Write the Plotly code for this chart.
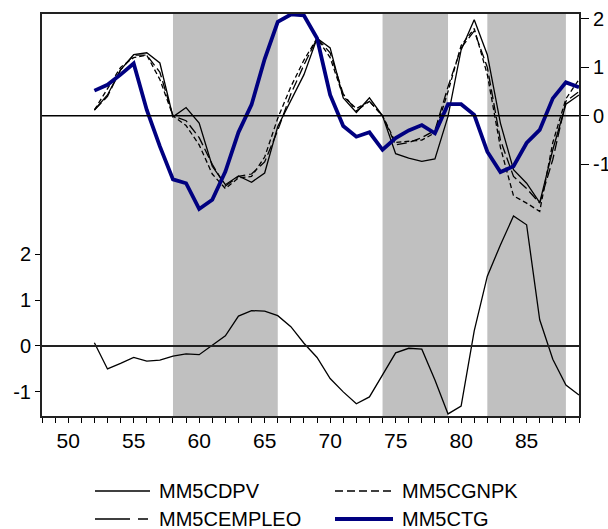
import plotly.graph_objects as go

years = list(range(52, 90))

mm5cdpv = [0.12, 0.43, 0.95, 1.26, 1.30, 1.09, -0.02, 0.17, -0.15, -1.04, -1.42, -1.24, -1.37, -1.18,
           -0.22, 0.33, 0.85, 1.60, 1.40, 0.37, 0.07, 0.37, 0.00, -0.78, -0.87, -0.94, -0.89, -0.01,
           1.36, 1.98, 1.26, -0.15, -1.11, -1.39, -1.79, -0.70, 0.24, 0.43]
mm5cgnpk = [0.12, 0.55, 1.00, 1.20, 1.25, 0.75, 0.00, -0.20, -0.60, -1.20, -1.50, -1.28, -1.25, -0.85,
            -0.05, 0.60, 1.15, 1.60, 1.20, 0.40, 0.15, 0.30, 0.00, -0.55, -0.52, -0.50, -0.35, 0.50,
            1.45, 1.80, 0.85, -0.65, -1.65, -1.80, -1.97, -0.55, 0.35, 0.75]
mm5cempleo = [0.12, 0.40, 0.95, 1.25, 1.25, 0.90, 0.00, -0.10, -0.45, -1.00, -1.45, -1.25, -1.20, -0.95,
              -0.30, 0.45, 1.05, 1.60, 1.30, 0.45, 0.10, 0.30, 0.00, -0.60, -0.55, -0.45, -0.30, 0.60,
              1.40, 1.75, 1.00, -0.50, -1.25, -1.50, -1.80, -0.90, 0.30, 0.50]
mm5ctg = [0.52, 0.64, 0.85, 1.08, 0.12, -0.63, -1.31, -1.39, -1.92, -1.73, -1.15, -0.34, 0.23, 1.17,
          1.94, 2.09, 2.07, 1.60, 0.43, -0.21, -0.43, -0.34, -0.70, -0.46, -0.30, -0.19, -0.36, 0.24,
          0.24, 0.02, -0.74, -1.16, -1.04, -0.56, -0.29, 0.36, 0.69, 0.59]
bottom_series = [0.07, -0.50, -0.38, -0.25, -0.33, -0.31, -0.22, -0.17, -0.19, 0.01, 0.22, 0.65, 0.77,
                 0.76, 0.66, 0.42, 0.06, -0.25, -0.71, -1.00, -1.26, -1.11, -0.63, -0.15, -0.05, -0.07,
                 -0.74, -1.48, -1.31, 0.33, 1.52, 2.20, 2.83, 2.64, 0.57, -0.29, -0.85, -1.07]

recessions = [(58, 66), (74, 79), (82, 88)]
x_ticks = [50, 55, 60, 65, 70, 75, 80, 85]
y_ticks = [-1, 0, 1, 2]
y_tick_labels = ["-1", "0", "1", "2"]

legend_names = ["MM5CDPV", "MM5CGNPK", "MM5CEMPLEO", "MM5CTG"]

BLUE = "#000080"
fig = go.Figure()

fig.add_trace(go.Scatter(x=years, y=bottom_series, mode="lines", yaxis="y",
                         line=dict(color="black", width=1.3), showlegend=False, name="bottom"))
fig.add_trace(go.Scatter(x=years, y=mm5cdpv, mode="lines", yaxis="y2", name=legend_names[0],
                         line=dict(color="black", width=1.3), showlegend=False))
fig.add_trace(go.Scatter(x=years, y=mm5cgnpk, mode="lines", yaxis="y2", name=legend_names[1],
                         line=dict(color="black", width=1.3, dash="5px,3px"), showlegend=False))
fig.add_trace(go.Scatter(x=years, y=mm5cempleo, mode="lines", yaxis="y2", name=legend_names[2],
                         line=dict(color="black", width=1.3, dash="10px,4px"), showlegend=False))
fig.add_trace(go.Scatter(x=years, y=mm5ctg, mode="lines", yaxis="y2", name=legend_names[3],
                         line=dict(color=BLUE, width=3.8), showlegend=False))

shapes = []
for a, b in recessions:
    shapes.append(dict(type="rect", xref="x", yref="paper", x0=a, x1=b, y0=0, y1=1,
                       fillcolor="#C0C0C0", line=dict(width=0), layer="below"))
shapes.append(dict(type="line", xref="paper", yref="y2", x0=0, x1=1, y0=0, y1=0,
                   line=dict(color="black", width=1.5)))
shapes.append(dict(type="line", xref="paper", yref="y", x0=0, x1=1, y0=0, y1=0,
                   line=dict(color="#222", width=2)))

# manual legend (page-pixel positions mapped to paper coords)
W, H, L, T = 537, 402, 42, 14
def px(xp):
    return (xp - L) / W
def py(yp):
    return (T + H - yp) / H

leg = [
    (legend_names[0], 95, 150, 491, "black", 1.3, "solid"),
    (legend_names[1], 335, 393, 491, "black", 1.3, "8px,4px"),
    (legend_names[2], 95, 150, 519, "black", 1.3, "35px,8px,10px,200px"),
    (legend_names[3], 335, 393, 519, BLUE, 3.8, "solid"),
]
annotations = []
for name, x0, x1, yy, col, w, d in leg:
    shapes.append(dict(type="line", xref="paper", yref="paper", x0=px(x0), x1=px(x1),
                       y0=py(yy), y1=py(yy), line=dict(color=col, width=w, dash=d)))
    annotations.append(dict(xref="paper", yref="paper", x=px(x1 + 7), y=py(yy), text=name,
                            showarrow=False, xanchor="left", yanchor="middle",
                            font=dict(size=20, color="black", family="Liberation Sans, Arial")))

fig.update_layout(
    width=608, height=529,
    margin=dict(l=42, r=29, t=14, b=113),
    paper_bgcolor="white", plot_bgcolor="white",
    font=dict(family="Liberation Sans, Arial", color="black"),
    showlegend=False,
    shapes=shapes, annotations=annotations,
    xaxis=dict(range=[48, 89], tickvals=x_ticks, ticks="outside", ticklen=5, tickwidth=1.2,
               tickcolor="black", showgrid=False, zeroline=False, showline=True, linecolor="#222",
               linewidth=2, mirror=True, tickfont=dict(size=21), automargin=False,
               minor=dict(dtick=1, tick0=48, ticks="outside", ticklen=5, tickwidth=1.2, tickcolor="black")),
    yaxis=dict(range=[-1.525, 7.23], tickvals=y_ticks, ticktext=y_tick_labels, ticks="outside",
               ticklen=5, tickwidth=1.2, automargin=False,
               tickcolor="black", showgrid=False, zeroline=False, showline=True, linecolor="#222",
               linewidth=2, tickfont=dict(size=20)),
    yaxis2=dict(range=[-6.19, 2.10], tickvals=y_ticks, ticktext=y_tick_labels, overlaying="y",
                side="right", ticks="outside", automargin=False,
                ticklen=8, tickwidth=1.2, tickcolor="black", showgrid=False, zeroline=False,
                showline=True, linecolor="#222", linewidth=2, tickfont=dict(size=20)),
)

fig.write_html("out.html", config={"displayModeBar": False},
               post_script="document.body.style.margin='0';document.body.style.overflow='hidden';")
